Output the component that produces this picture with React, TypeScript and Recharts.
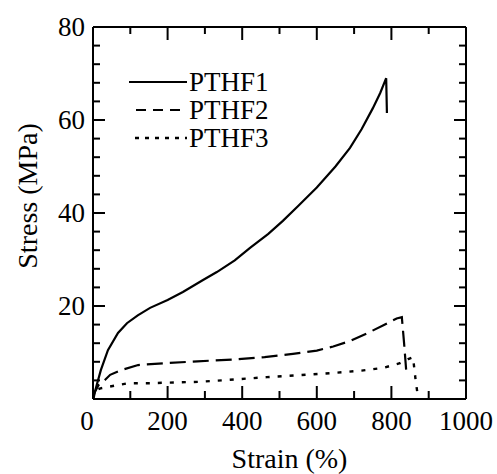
import React from 'react';
import { LineChart, Line, XAxis, YAxis, Legend } from 'recharts';

const seriesNames = ['PTHF1', 'PTHF2', 'PTHF3'];

const pthf1Strain = [0, 10, 21, 40, 67, 91, 120, 153, 200, 241, 295, 332, 380, 421, 470, 509, 550, 600, 650, 689, 720, 750, 770, 786, 788];
const pthf1Stress = [0, 3, 6.2, 10.5, 14.2, 16.3, 18, 19.6, 21.3, 23, 25.6, 27.3, 29.8, 32.5, 35.5, 38.3, 41.5, 45.5, 50, 54, 58, 62.5, 65.8, 69, 61.5];

const pthf2Strain = [0, 5, 15, 32, 46, 75, 121, 193, 280, 375, 460, 536, 600, 644, 690, 734, 780, 814, 828, 834, 840];
const pthf2Stress = [0, 1.5, 3, 4.1, 5.2, 6.2, 7.3, 7.7, 8.1, 8.5, 9, 9.7, 10.4, 11.3, 12.5, 14.1, 15.9, 17.3, 17.6, 12, 5.8];

const pthf3Strain = [0, 8, 20, 40, 94, 153, 193, 287, 380, 466, 550, 644, 720, 778, 823, 845, 858, 865, 872];
const pthf3Stress = [0, 1.9, 2.3, 2.6, 3.4, 3.4, 3.5, 3.7, 4.2, 4.7, 5.1, 5.6, 6.1, 6.7, 7.7, 8.6, 9, 4, 0];

const strainMajor = [0, 200, 400, 600, 800, 1000];
const strainInner = [100, 200, 300, 400, 500, 600, 700, 800, 900];
const stressInner = [4, 8, 12, 16, 20, 24, 28, 32, 36, 40, 44, 48, 52, 56, 60, 64, 68, 72, 76];
const stressLabels = [20, 40, 60, 80];

const toPoints = (xs: number[], ys: number[]) => xs.map((x, i) => ({ x, y: ys[i] }));
const data1 = toPoints(pthf1Strain, pthf1Stress);
const data2 = toPoints(pthf2Strain, pthf2Stress);
const data3 = toPoints(pthf3Strain, pthf3Stress);

const FONT = '"Liberation Serif", "Times New Roman", serif';
const INK = '#000';
const AXIS_LINE = { stroke: INK, strokeWidth: 2 };

// plot geometry (px) used to turn tick-mark lengths in px into data units
const X_MAX = 1000;
const Y_MAX = 80;
const PLOT_W = 373;
const PLOT_H = 372;
const xLen = (px: number) => (px * X_MAX) / PLOT_W;
const yLen = (px: number) => (px * Y_MAX) / PLOT_H;

const renderBottomLabel = (props: any) => {
  const x = Number(props.x);
  const y = Number(props.y);
  const v = props.payload.value;
  return (
    <text key={`b-${v}`} x={v === 0 ? x - 6 : x} y={y + 31} textAnchor="middle" fontFamily={FONT} fontSize={27} fill={INK}>
      {v}
    </text>
  );
};

const renderLeftLabel = (props: any) => {
  const x = Number(props.x);
  const y = Number(props.y);
  const v = props.payload.value;
  return (
    <text key={`l-${v}`} x={x - 8} y={y + 9} textAnchor="end" fontFamily={FONT} fontSize={27} fill={INK}>
      {v}
    </text>
  );
};

const legendStyles = [
  { dash: undefined as string | undefined, x1: 9, w: 2.2 },
  { dash: '10 7', x1: 16, w: 2.2 },
  { dash: '4 6', x1: 15, w: 2.4 },
];

const renderLegend = () => (
  <svg width={180} height={90}>
    {seriesNames.map((name, i) => {
      const cy = 15 + i * 28;
      const s = legendStyles[i];
      return (
        <g key={name}>
          <line x1={s.x1} y1={cy} x2={67} y2={cy} stroke={INK} strokeWidth={s.w} strokeDasharray={s.dash} />
          <text x={69} y={cy + 9} fontFamily={FONT} fontSize={27} fill={INK}>
            {name}
          </text>
        </g>
      );
    })}
  </svg>
);

const YLabel = (props: any) => {
  const vb = props.viewBox || { x: 92, y: 27, width: 1, height: 372 };
  const cx = vb.x + vb.width - 66;
  const cy = vb.y + vb.height / 2 - 17;
  return (
    <text
      x={cx}
      y={cy}
      transform={`rotate(-90 ${cx} ${cy})`}
      textAnchor="middle"
      dominantBaseline="central"
      fontFamily={FONT}
      fontSize={28}
      fill={INK}
    >
      Stress (MPa)
    </text>
  );
};

const XLabel = (props: any) => {
  const vb = props.viewBox || { x: 93, y: 399, width: 373, height: 1 };
  return (
    <text x={vb.x + vb.width / 2 + 10} y={vb.y + 69} textAnchor="middle" fontFamily={FONT} fontSize={28} fill={INK}>
      Strain (%)
    </text>
  );
};

const tickMark = (key: string, seg: { x: number; y: number }[]) => (
  <Line
    key={key}
    xAxisId="b"
    yAxisId="l"
    data={seg}
    dataKey="y"
    name={key}
    type="linear"
    stroke={INK}
    strokeWidth={2}
    dot={false}
    activeDot={false}
    legendType="none"
    isAnimationActive={false}
  />
);

export default function App() {
  const xTicks = strainInner.flatMap((v) => {
    const major = v % 200 === 0;
    const bl = yLen(major ? 13 : 8);
    const tl = yLen(major ? 13 : 7);
    return [
      tickMark(`xb-${v}`, [{ x: v, y: 0 }, { x: v, y: bl }]),
      tickMark(`xt-${v}`, [{ x: v, y: Y_MAX - tl }, { x: v, y: Y_MAX }]),
    ];
  });
  const yTicks = stressInner.flatMap((v) => {
    const len = xLen(v % 20 === 0 ? 12 : 7);
    return [
      tickMark(`yl-${v}`, [{ x: 0, y: v }, { x: len, y: v }]),
      tickMark(`yr-${v}`, [{ x: X_MAX - len, y: v }, { x: X_MAX, y: v }]),
    ];
  });
  return (
    <div style={{ position: 'absolute', left: 0, top: 0 }}>
      <LineChart width={497} height={474} margin={{ top: 26, right: 30, bottom: 74, left: 92 }}>
        <XAxis
          xAxisId="b"
          type="number"
          dataKey="x"
          domain={[0, X_MAX]}
          ticks={strainMajor}
          interval={0}
          height={1}
          tickSize={0}
          tickMargin={0}
          tickLine={false}
          tick={renderBottomLabel}
          axisLine={AXIS_LINE}
          label={<XLabel />}
        />
        <XAxis
          xAxisId="t"
          orientation="top"
          type="number"
          dataKey="x"
          domain={[0, X_MAX]}
          ticks={strainMajor}
          height={1}
          tickLine={false}
          tick={false}
          axisLine={AXIS_LINE}
        />
        <YAxis
          yAxisId="l"
          type="number"
          domain={[0, Y_MAX]}
          ticks={stressLabels}
          interval={0}
          width={1}
          tickSize={0}
          tickMargin={0}
          tickLine={false}
          tick={renderLeftLabel}
          axisLine={AXIS_LINE}
          label={<YLabel />}
        />
        <YAxis
          yAxisId="r"
          orientation="right"
          type="number"
          domain={[0, Y_MAX]}
          ticks={stressLabels}
          width={1}
          tickLine={false}
          tick={false}
          axisLine={AXIS_LINE}
        />
        <Legend
          layout="vertical"
          align="center"
          verticalAlign="middle"
          content={renderLegend}
          wrapperStyle={{ position: 'absolute', left: 120, top: 67, width: 180, height: 90 }}
        />
        <Line xAxisId="b" yAxisId="l" data={data1} dataKey="y" name={seriesNames[0]} type="linear" stroke={INK} strokeWidth={2.2} dot={false} activeDot={false} isAnimationActive={false} />
        <Line xAxisId="b" yAxisId="l" data={data2} dataKey="y" name={seriesNames[1]} type="linear" stroke={INK} strokeWidth={2.2} strokeDasharray="16 7" dot={false} activeDot={false} isAnimationActive={false} />
        <Line xAxisId="b" yAxisId="l" data={data3} dataKey="y" name={seriesNames[2]} type="linear" stroke={INK} strokeWidth={2.4} strokeDasharray="4 8" dot={false} activeDot={false} isAnimationActive={false} />
        {xTicks}
        {yTicks}
      </LineChart>
    </div>
  );
}
